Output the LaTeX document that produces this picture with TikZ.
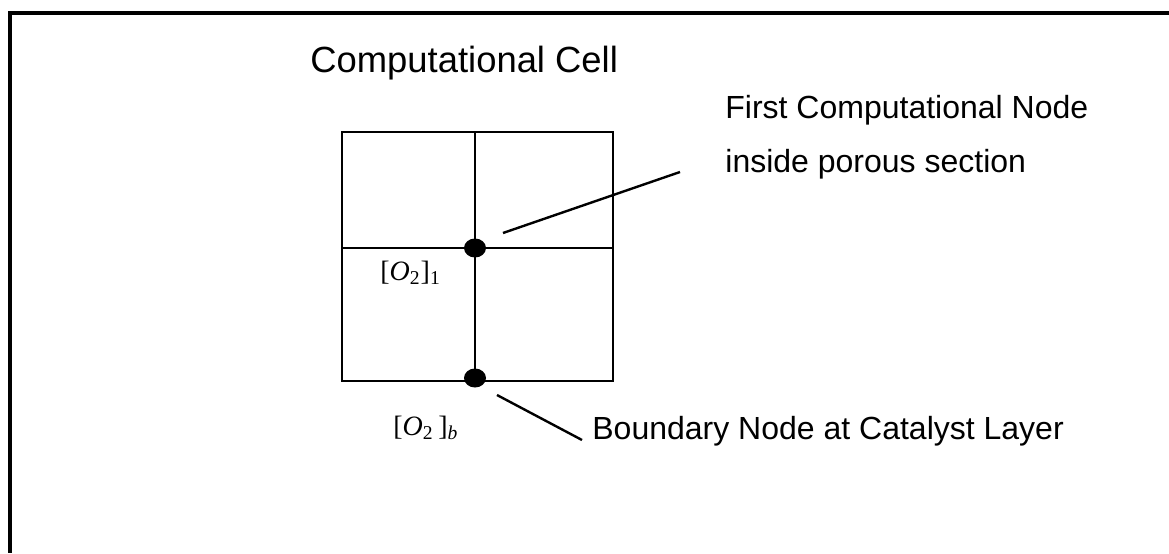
\documentclass[tikz,border=0pt]{standalone}
\usepackage{fontspec}
\setmainfont{Liberation Sans}
\newfontfamily\tmsfont{Liberation Serif}
\usetikzlibrary{shapes.geometric}
\tikzset{
  frame/.style={line width=1.6pt},
  gridline/.style={line width=1.1pt},
  leader/.style={line width=1.2pt},
  dotnode/.style={ellipse,fill=black,inner sep=0pt,minimum width=11pt,minimum height=9.5pt},
  lbl/.style={inner sep=0pt,anchor=base west,font=\fontsize{16}{19}\selectfont},
  ttl/.style={inner sep=0pt,anchor=base west,font=\fontsize{18.2}{21}\selectfont},
  mlbl/.style={inner sep=0pt,anchor=base west,font=\tmsfont\fontsize{14}{17}\selectfont}
}
\begin{document}
\begin{tikzpicture}[x=0.5pt,y=-0.5pt]
\useasboundingbox (0,0) rectangle (1169,553);
% frame (only top and left edges visible)
\draw[frame] (1169,13) -- (10,13) -- (10,553);
% grid
\coordinate (tl) at (342,132);
\coordinate (br) at (613,381);
\draw[gridline] (tl) rectangle (br);
\draw[gridline] (475,132) -- (475,381);
\draw[gridline] (342,248) -- (613,248);
% nodes
\node[dotnode] (n1) at (475,248) {};
\node[dotnode] (nb) at (475,378) {};
% labels
\node[ttl] (title) at (310,72) {Computational Cell};
\node[lbl] (first1) at (725,118) {First Computational Node};
\node[lbl] (first2) at (725,172) {inside porous section};
\node[lbl] (bnd) at (592,439) {Boundary Node at Catalyst Layer};
\node[mlbl] (o1) at (380,280) {[\textit{O}\textsubscript{2}]\textsubscript{1}};
\node[mlbl] (ob) at (393,435) {[\textit{O}\textsubscript{2}\,]\textsubscript{\textit{b}}};
% leader lines
\coordinate (l1a) at (503,233);
\coordinate (l1b) at (680,172);
\draw[leader] (l1a) -- (l1b);
\coordinate (l2a) at (497,395);
\coordinate (l2b) at (582,440);
\draw[leader] (l2a) -- (l2b);
\end{tikzpicture}
\end{document}
